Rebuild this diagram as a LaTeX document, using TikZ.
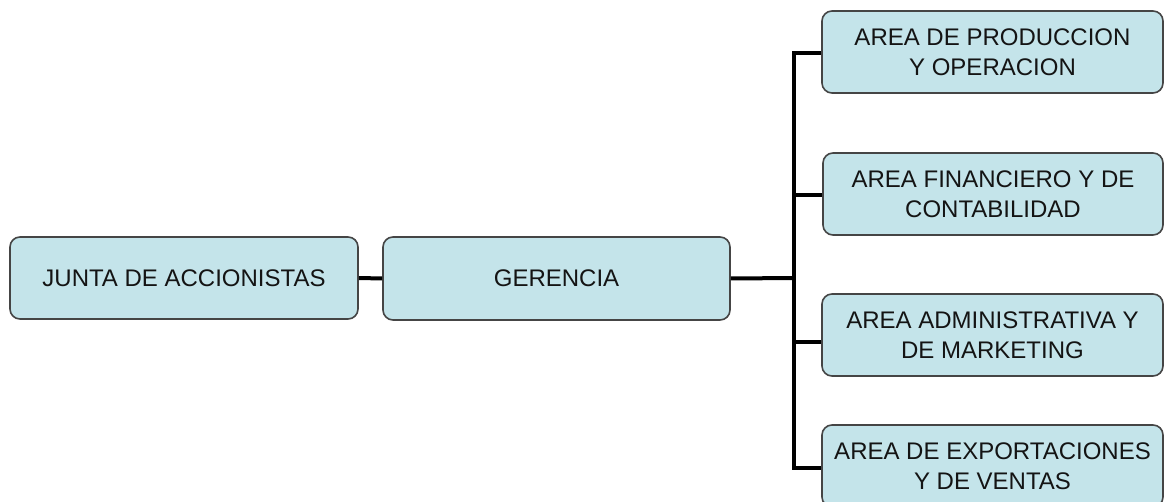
\documentclass[tikz,border=0pt]{standalone}
\usepackage{fontspec}
\setmainfont{Liberation Sans}
\definecolor{boxfill}{HTML}{C4E4EA}
\definecolor{boxline}{HTML}{454545}
\tikzset{
  orgbox/.style={draw=boxline, line width=1.6pt, fill=boxfill, rounded corners=10pt,
    align=center, inner sep=0pt, font=\fontsize{24pt}{30pt}\selectfont, text=black!92},
  link/.style={line width=4pt, black}
}
\begin{document}
\begin{tikzpicture}[x=1pt, y=-1pt]
  \useasboundingbox (0,0) rectangle (1164,502);
  \clip (0,0) rectangle (1164,502);

  % left-hand chain
  \node[orgbox, minimum width=348pt, minimum height=82pt] (junta) at (184,278) {JUNTA DE ACCIONISTAS};
  \node[orgbox, minimum width=347pt, minimum height=83pt] (gerencia) at (556.5,278.5) {GERENCIA};

  % departments
  \node[orgbox, minimum width=341pt, minimum height=82pt] (prod) at (992.5,52) {AREA DE PRODUCCION\\Y OPERACION};
  \node[orgbox, minimum width=340pt, minimum height=82pt] (fin) at (993,194) {AREA FINANCIERO Y DE\\CONTABILIDAD};
  \node[orgbox, minimum width=341pt, minimum height=82pt] (adm) at (992.5,335) {AREA ADMINISTRATIVA Y\\DE MARKETING};
  \node[orgbox, minimum width=341pt, minimum height=82pt] (exp) at (992.5,466) {AREA DE EXPORTACIONES\\Y DE VENTAS};

  % branch point on the vertical bus
  \coordinate (bus) at (794,278);
  \coordinate (s1) at ([yshift=-1pt]prod.west);
  \coordinate (s2) at ([yshift=-1pt]fin.west);
  \coordinate (s3) at ([yshift=-7pt]adm.west);
  \coordinate (s4) at ([yshift=-2pt]exp.west);

  \draw[link] (junta.east) -- (gerencia.west);
  \draw[link] (gerencia.east) -- (bus);
  \draw[link, line cap=rect] (bus |- s1) -- (bus |- s4);
  \draw[link] (bus |- s1) -- (s1);
  \draw[link] (bus |- s2) -- (s2);
  \draw[link] (bus |- s3) -- (s3);
  \draw[link] (bus |- s4) -- (s4);
\end{tikzpicture}
\end{document}
